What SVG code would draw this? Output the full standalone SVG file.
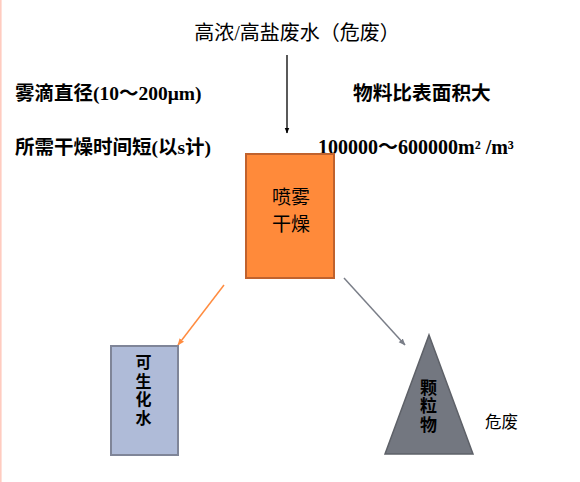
<svg xmlns="http://www.w3.org/2000/svg" width="580" height="482" viewBox="0 0 580 482">
<defs>
<style>
.t{font-family:"Liberation Serif","Noto Sans CJK SC",serif;fill:#000}
.b{font-weight:bold}
.c{font-family:"Noto Sans CJK SC","Liberation Sans",sans-serif;fill:#000;text-anchor:middle}
.v{font-family:"Noto Sans CJK SC","Liberation Sans",sans-serif;fill:#000;writing-mode:vertical-rl;font-weight:bold}
</style>
<marker id="ak" viewBox="0 0 10 10" refX="9" refY="5" markerWidth="6" markerHeight="6" orient="auto" markerUnits="userSpaceOnUse"><path d="M0,1 L10,5 L0,9 Z" fill="#000"/></marker>
<marker id="ao" viewBox="0 0 10 10" refX="9" refY="5" markerWidth="7" markerHeight="7" orient="auto" markerUnits="userSpaceOnUse"><path d="M0,1 L10,5 L0,9 Z" fill="#FF8C40"/></marker>
<marker id="ag" viewBox="0 0 10 10" refX="9" refY="5" markerWidth="7" markerHeight="7" orient="auto" markerUnits="userSpaceOnUse"><path d="M0,1 L10,5 L0,9 Z" fill="#7A7E88"/></marker>
</defs>
<rect x="0" y="0" width="580" height="482" fill="#fff"/>
<line x1="0.8" y1="0" x2="0.8" y2="482" stroke="#FFCCC0" stroke-width="1.6"/>
<g id="labels">
<text class="t" x="297" y="40" font-size="20" text-anchor="middle">高浓/高盐废水（危废）</text>
<text class="t b" x="15" y="100" font-size="19.5">雾滴直径(10～200μm)</text>
<text class="t b" x="15" y="153.5" font-size="19.5">所需干燥时间短(以s计)</text>
<text class="t b" x="353" y="100" font-size="19.7">物料比表面积大</text>
<text class="t b" x="318" y="153.5" font-size="20">100000～600000m² /m³</text>
<text class="c" x="501.5" y="427.5" font-size="16.5">危废</text>
</g>
<g id="connectors">
<line x1="287" y1="55" x2="287" y2="133" stroke="#000" stroke-width="1.3" marker-end="url(#ak)"/>
<line x1="224" y1="285" x2="178" y2="345" stroke="#FF8C40" stroke-width="1.5" marker-end="url(#ao)"/>
<line x1="344" y1="278" x2="405" y2="345" stroke="#7A7E88" stroke-width="1.5" marker-end="url(#ag)"/>
</g>
<g id="spray">
<rect x="246" y="154" width="88" height="124" fill="#FF8A3A" stroke="#C0622D" stroke-width="2"/>
<text class="c" font-size="19"><tspan x="291" y="204">喷雾</tspan><tspan x="291" y="230.5">干燥</tspan></text>
</g>
<g id="water">
<rect x="111" y="346" width="67" height="109" fill="#AFBBD8" stroke="#7F8598" stroke-width="2"/>
<text class="v" x="143.5" y="354" font-size="16" letter-spacing="2.5">可生化水</text>
</g>
<g id="particles">
<polygon points="429,335 473,454 385,454" fill="#737780" stroke="#5E6168" stroke-width="1.5"/>
<text class="v" x="428.5" y="379" font-size="17" letter-spacing="1.5">颗粒物</text>
</g>
</svg>
